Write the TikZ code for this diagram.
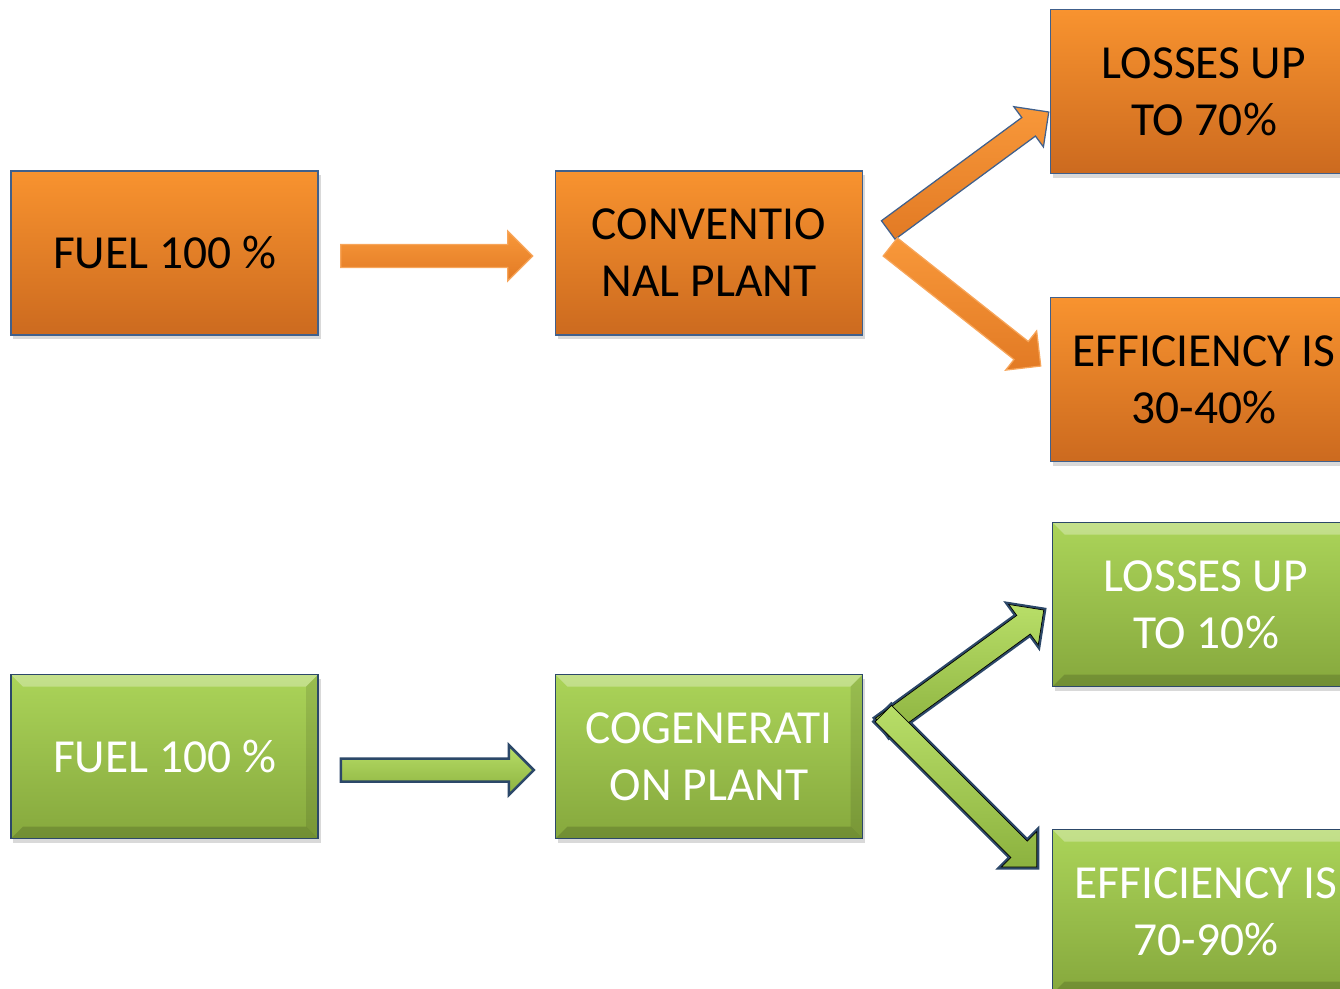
\documentclass[tikz,border=0pt]{standalone}
\usepackage{fontspec}
\setmainfont{Carlito}
\usetikzlibrary{calc, shadows}

\begin{document}
\begin{tikzpicture}[x=0.2mm, y=-0.2mm,
		box/.style={draw=boxline, line width=0.3mm, minimum width=61.4mm, minimum height=32.8mm, align=center, inner sep=0pt,
			font=\fontsize{27}{32.5}\selectfont, drop shadow={shadow xshift=0.5mm, shadow yshift=-0.8mm, opacity=0.3}},
		obox/.style={box, top color=orangetop, bottom color=orangebot},
		gbox/.style={box, draw=greenline, top color=greentop, bottom color=greenbot, text=white,
			path picture={
				\fill[white, opacity=0.3] (path picture bounding box.north west) -- (path picture bounding box.north east)
					-- ([shift={(-2.4mm,-2.4mm)}]path picture bounding box.north east) -- ([shift={(2.4mm,-2.4mm)}]path picture bounding box.north west) -- cycle;
				\fill[black, opacity=0.15] (path picture bounding box.south west) -- (path picture bounding box.south east)
					-- ([shift={(-2.4mm,2.4mm)}]path picture bounding box.south east) -- ([shift={(2.4mm,2.4mm)}]path picture bounding box.south west) -- cycle;
				\fill[black, opacity=0.1] (path picture bounding box.north east) -- (path picture bounding box.south east)
					-- ([shift={(-2.4mm,2.4mm)}]path picture bounding box.south east) -- ([shift={(-2.4mm,-2.4mm)}]path picture bounding box.north east) -- cycle;
			}},
		oarrow/.style={draw=orangeglow, line width=0.25mm, line join=miter, top color=arrowtop, bottom color=arrowbot},
		garrow/.style={draw=greenline, line width=0.5mm, line join=miter, top color=garrowtop, bottom color=garrowbot},
		gline/.style={draw=greenline, line width=1mm, line join=miter},
		gfill/.style={top color=garrowtop, bottom color=garrowbot}]
		\definecolor{orangetop}{HTML}{F8932F}
		\definecolor{orangebot}{HTML}{CC6A1F}
		\definecolor{boxline}{HTML}{40608C}
		\definecolor{greentop}{HTML}{ABD459}
		\definecolor{greenbot}{HTML}{86A83D}
		\definecolor{greenline}{HTML}{2C4869}
		\definecolor{orangeglow}{HTML}{F7A55A}
		\definecolor{arrowtop}{HTML}{F8983A}
		\definecolor{arrowbot}{HTML}{E27A24}
		\definecolor{garrowtop}{HTML}{B8DE68}
		\definecolor{garrowbot}{HTML}{8CB23F}
		\useasboundingbox (0,0) rectangle (1340,988);

		% block arrow from #2 to #3
		\def\fatarrow#1#2#3{
			\path (#2) coordinate (fa-s) (#3) coordinate (fa-e);
			\path ($(fa-e)!5mm!(fa-s)$) coordinate (fa-h);
			\draw[#1] ($(fa-s)!2.3mm!90:(fa-e)$) -- ($(fa-h)!2.3mm!90:(fa-e)$) -- ($(fa-h)!5mm!90:(fa-e)$) -- (fa-e)
				-- ($(fa-h)!5mm!-90:(fa-e)$) -- ($(fa-h)!2.3mm!-90:(fa-e)$) -- ($(fa-s)!2.3mm!-90:(fa-e)$) -- cycle;
		}

		% conventional plant
		\foreach \nm/\cx/\cy/\txt in {fuelA/164.5/253/{FUEL 100 \%}, convA/709/253/{CONVENTIO\\NAL PLANT},
				lossA/1204/91.5/{LOSSES UP\\TO 70\%}, effA/1204/379.5/{EFFICIENCY IS\\30-40\%}}
			\node[obox] (\nm) at (\cx,\cy) {\txt};

		% cogeneration plant
		\foreach \nm/\cx/\cy/\txt in {fuelB/164.5/756.5/{FUEL 100 \%}, convB/709/756.5/{COGENERATI\\ON PLANT},
				lossB/1206/604.5/{LOSSES UP\\TO 10\%}, effB/1206/911.5/{EFFICIENCY IS\\70-90\%}}
			\node[gbox] (\nm) at (\cx,\cy) {\txt};

		\fatarrow{oarrow}{[xshift=4.4mm,yshift=-0.6mm]fuelA.east}{[xshift=-4.4mm,yshift=-0.6mm]convA.west}
		\fatarrow{oarrow, draw=boxline}{[xshift=5mm,yshift=4.6mm]convA.east}{[xshift=-0.2mm,yshift=-4.1mm]lossA.west}
		\fatarrow{oarrow}{[xshift=5.4mm,yshift=1.2mm]convA.east}{[xshift=-1.8mm,yshift=2.7mm]effA.west}

		\fatarrow{garrow}{[xshift=4.4mm,yshift=-2.7mm]fuelB.east}{[xshift=-4.2mm,yshift=-2.7mm]convB.west}
		% chevron: outlines first, then fills
		\coordinate (apexU) at ([xshift=3.8mm,yshift=5.8mm]convB.east);
		\coordinate (apexD) at ([xshift=4mm,yshift=8.6mm]convB.east);
		\foreach \st in {gline, gfill} {
			\fatarrow{\st}{apexU}{[xshift=-1.6mm,yshift=-1.1mm]lossB.west}
			\fatarrow{\st}{apexD}{[xshift=-3mm,yshift=8.9mm]effB.west}
		}
	\end{tikzpicture}
\end{document}
